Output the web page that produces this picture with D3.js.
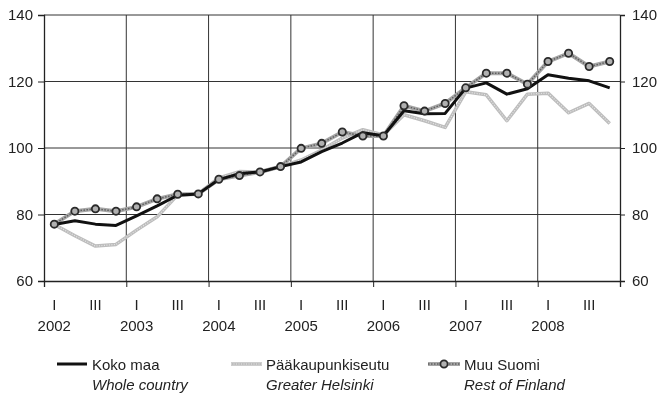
<!DOCTYPE html>
<html>
<head>
<meta charset="utf-8">
<script src="https://cdn.jsdelivr.net/npm/d3@7"></script>
<style>
  body { margin: 0; background: #fff; }
  svg { display: block; font-family: "Liberation Sans", Arial, sans-serif; will-change: transform; }
</style>
</head>
<body>
<div id="chart"></div>
<script>
// quarterly index, 2002 Q1 .. 2008 Q4
const years = ['2002', '2003', '2004', '2005', '2006', '2007', '2008'];
const quarterLabels = ['I', '', 'III', ''];
const yTicks = [60, 80, 100, 120, 140];

const kokoMaa = [
  77.0, 78.1, 77.1, 76.7,
  79.6, 82.6, 85.8, 86.2,
  90.5, 92.3, 92.8, 94.4,
  95.8, 98.9, 101.5, 104.6,
  103.7, 111.2, 110.3, 110.4,
  118.0, 119.6, 116.2, 117.8,
  122.0, 121.0, 120.2, 118.1
];
const paakaupunkiseutu = [
  77.0, 73.6, 70.5, 71.0,
  75.3, 79.3, 85.9, 86.2,
  91.0, 92.9, 92.8, 94.4,
  96.4, 99.4, 103.0, 105.5,
  103.9, 110.0, 108.2, 106.2,
  116.9, 116.0, 108.2, 116.2,
  116.5, 110.6, 113.4, 107.4
];
const muuSuomi = [
  77.1, 81.0, 81.7, 81.0,
  82.3, 84.7, 86.1, 86.2,
  90.6, 91.7, 92.8, 94.4,
  99.9, 101.4, 104.8, 103.6,
  103.6, 112.7, 111.1, 113.4,
  118.1, 122.5, 122.5, 119.2,
  126.0, 128.5, 124.5, 126.0
];

const w = 659, h = 400;
const mLeft = 44, mRight = 620, mTop = 15, mBottom = 281;

const svg = d3.select('#chart').append('svg')
  .attr('width', w)
  .attr('height', h);

const x = d3.scaleLinear().domain([0, years.length * 4]).range([mLeft, mRight]);
const y = d3.scaleLinear().domain([60, 140]).range([mBottom, mTop]);
const xq = (i) => x(i + 0.5);

// grid
svg.append('g').selectAll('line')
  .data(yTicks.filter(d => d > 60))
  .enter().append('line')
  .attr('x1', mLeft).attr('x2', mRight)
  .attr('y1', d => y(d)).attr('y2', d => y(d))
  .attr('stroke', '#333').attr('stroke-width', 1);

svg.append('g').selectAll('line')
  .data(d3.range(1, years.length))
  .enter().append('line')
  .attr('x1', d => x(d * 4)).attr('x2', d => x(d * 4))
  .attr('y1', mTop).attr('y2', mBottom)
  .attr('stroke', '#333').attr('stroke-width', 1);

// axes
const yLeft = svg.append('g')
  .attr('transform', `translate(${mLeft},0)`)
  .call(d3.axisLeft(y).tickValues(yTicks).tickSize(6).tickPadding(5));
const yRight = svg.append('g')
  .attr('transform', `translate(${mRight},0)`)
  .call(d3.axisRight(y).tickValues(yTicks).tickSize(5).tickPadding(7));
const xAxis = svg.append('g')
  .attr('transform', `translate(0,${mBottom})`)
  .call(d3.axisBottom(x).tickValues(d3.range(0, years.length * 4 + 1, 4)).tickSize(6).tickFormat(''));

[yLeft, yRight, xAxis].forEach(a => {
  a.select('.domain').attr('stroke', '#222').attr('stroke-width', 1.3);
  a.selectAll('.tick line').attr('stroke', '#222');
  a.selectAll('text').attr('font-size', 15).attr('fill', '#222')
    .attr('font-family', '"Liberation Sans", Arial, sans-serif');
});

// quarter and year labels
const qIdx = d3.range(years.length * 4).filter(i => quarterLabels[i % 4] !== '');
svg.append('g').selectAll('text')
  .data(qIdx)
  .enter().append('text')
  .attr('x', d => xq(d))
  .attr('y', 310)
  .attr('text-anchor', 'middle')
  .attr('font-size', 15)
  .attr('fill', '#222')
  .text(d => quarterLabels[d % 4]);

svg.append('g').selectAll('text')
  .data(years)
  .enter().append('text')
  .attr('x', (d, i) => xq(i * 4))
  .attr('y', 331)
  .attr('text-anchor', 'middle')
  .attr('font-size', 15)
  .attr('fill', '#222')
  .text(d => d);

// lines
const line = d3.line().x((d, i) => xq(i)).y(d => y(d));

const plot = svg.append('g');

plot.append('path').datum(paakaupunkiseutu)
  .attr('d', line).attr('fill', 'none')
  .attr('stroke', '#bdbdbd').attr('stroke-width', 3.5).attr('stroke-linejoin', 'round');
plot.append('path').datum(paakaupunkiseutu)
  .attr('d', line).attr('fill', 'none')
  .attr('stroke', '#e6e6e6').attr('stroke-width', 1.2).attr('stroke-dasharray', '1 1.5');

plot.append('path').datum(muuSuomi)
  .attr('d', line).attr('fill', 'none')
  .attr('stroke', '#a6a6a6').attr('stroke-width', 4).attr('stroke-linejoin', 'round');
plot.append('path').datum(muuSuomi)
  .attr('d', line).attr('fill', 'none')
  .attr('stroke', '#606060').attr('stroke-width', 1.5).attr('stroke-dasharray', '1.5 1.5');

plot.append('path').datum(kokoMaa)
  .attr('d', line).attr('fill', 'none')
  .attr('stroke', '#111').attr('stroke-width', 3).attr('stroke-linejoin', 'round');

plot.selectAll('circle')
  .data(muuSuomi)
  .enter().append('circle')
  .attr('cx', (d, i) => xq(i))
  .attr('cy', d => y(d))
  .attr('r', 3.6)
  .attr('fill', '#b0b0b0')
  .attr('stroke', '#2a2a2a')
  .attr('stroke-width', 1.8);

// legend
const legend = [
  { name: 'Koko maa', en: 'Whole country', x0: 57, x1: 87, tx: 92, kind: 'koko' },
  { name: 'Pääkaupunkiseutu', en: 'Greater Helsinki', x0: 231, x1: 262, tx: 266, kind: 'paa' },
  { name: 'Muu Suomi', en: 'Rest of Finland', x0: 428, x1: 460, tx: 464, kind: 'muu' }
];
const lg = svg.append('g').selectAll('g').data(legend).enter().append('g');
lg.each(function(d) {
  const g = d3.select(this);
  const ly = 364;
  if (d.kind === 'koko') {
    g.append('line').attr('x1', d.x0).attr('x2', d.x1).attr('y1', ly).attr('y2', ly)
      .attr('stroke', '#111').attr('stroke-width', 3);
  } else if (d.kind === 'paa') {
    g.append('line').attr('x1', d.x0).attr('x2', d.x1).attr('y1', ly).attr('y2', ly)
      .attr('stroke', '#bdbdbd').attr('stroke-width', 3.5);
    g.append('line').attr('x1', d.x0).attr('x2', d.x1).attr('y1', ly).attr('y2', ly)
      .attr('stroke', '#e6e6e6').attr('stroke-width', 1.2).attr('stroke-dasharray', '1 1.5');
  } else {
    g.append('line').attr('x1', d.x0).attr('x2', d.x1).attr('y1', ly).attr('y2', ly)
      .attr('stroke', '#a6a6a6').attr('stroke-width', 4);
    g.append('line').attr('x1', d.x0).attr('x2', d.x1).attr('y1', ly).attr('y2', ly)
      .attr('stroke', '#606060').attr('stroke-width', 1.5).attr('stroke-dasharray', '1.5 1.5');
    g.append('circle').attr('cx', (d.x0 + d.x1) / 2).attr('cy', ly).attr('r', 3.6)
      .attr('fill', '#b0b0b0').attr('stroke', '#2a2a2a').attr('stroke-width', 1.8);
  }
  g.append('text').attr('x', d.tx).attr('y', ly + 5.5)
    .attr('font-size', 15).attr('fill', '#222').text(d.name);
  g.append('text').attr('x', d.tx).attr('y', ly + 26)
    .attr('font-size', 15).attr('font-style', 'italic').attr('fill', '#222').text(d.en);
});
</script>
</body>
</html>
